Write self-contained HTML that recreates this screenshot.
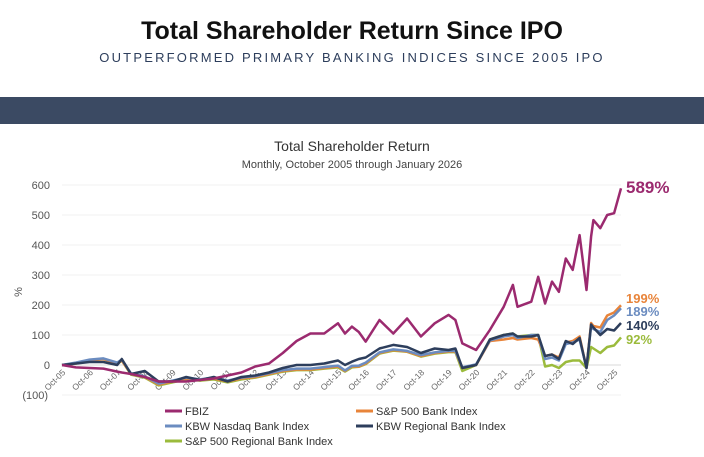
<!DOCTYPE html>
<html><head><meta charset="utf-8"><style>
body{margin:0;background:#fff;width:704px;height:452px;overflow:hidden;font-family:"Liberation Sans",sans-serif}
</style></head><body>
<svg width="704" height="452" xmlns="http://www.w3.org/2000/svg">
<text x="352" y="39" text-anchor="middle" font-size="25" font-weight="bold" fill="#111">Total Shareholder Return Since IPO</text>
<text x="352" y="62" text-anchor="middle" font-size="13" letter-spacing="2.2" fill="#2d3e5c">OUTPERFORMED PRIMARY BANKING INDICES SINCE 2005 IPO</text>
<rect x="0" y="97" width="704" height="27" fill="#3b4a63"/>
<text x="352" y="151" text-anchor="middle" font-size="14" fill="#333">Total Shareholder Return</text>
<text x="352" y="168" text-anchor="middle" font-size="11" fill="#444">Monthly, October 2005 through January 2026</text>
<text x="22" y="292" font-size="11" fill="#555" transform="rotate(-90 22 292)" text-anchor="middle">%</text>
<g id="grid"></g><g id="xt"></g><g id="lines"></g>
<g font-size="13" font-weight="bold">
<text x="626" y="193" font-size="17" fill="#9b2a6f">589%</text>
<text x="626" y="303" fill="#e8843a">199%</text>
<text x="626" y="316" fill="#6b8cc0">189%</text>
<text x="626" y="330" fill="#2d3e5c">140%</text>
<text x="626" y="344" fill="#9bbb3c">92%</text>
</g>
<g font-size="11" fill="#333">
<g><line x1="165" y1="411" x2="182" y2="411" stroke="#9b2a6f" stroke-width="3"/><text x="185" y="415">FBIZ</text></g>
<g><line x1="356" y1="411" x2="373" y2="411" stroke="#e8843a" stroke-width="3"/><text x="376" y="415">S&amp;P 500 Bank Index</text></g>
<g><line x1="165" y1="426" x2="182" y2="426" stroke="#6b8cc0" stroke-width="3"/><text x="185" y="430">KBW Nasdaq Bank Index</text></g>
<g><line x1="356" y1="426" x2="373" y2="426" stroke="#2d3e5c" stroke-width="3"/><text x="376" y="430">KBW Regional Bank Index</text></g>
<g><line x1="165" y1="441" x2="182" y2="441" stroke="#9bbb3c" stroke-width="3"/><text x="185" y="445">S&amp;P 500 Regional Bank Index</text></g>
</g>
</svg>
<script>
const months=[0,6,12,18,24,26,30,36,42,48,54,60,66,72,78,84,90,96,102,108,114,120,123,126,129,132,138,144,150,156,162,168,171,174,180,186,192,196,198,204,207,210,213,216,219,222,225,228,230,231,234,237,240,243];
const fbiz=[0,-8,-10,-12,-22,-25,-30,-40,-55,-55,-55,-50,-45,-35,-25,-5,5,40,80,105,105,139,105,128,110,78,150,105,155,95,139,167,150,72,50,117,194,267,194,211,294,205,278,244,355,317,433,250,428,483,456,500,506,589];
const regional=[0,5,10,10,0,20,-30,-20,-55,-55,-40,-50,-40,-55,-40,-35,-25,-10,0,0,5,15,0,11,20,25,55,67,60,40,55,50,55,-10,0,85,100,105,95,95,100,30,35,20,80,70,90,-10,135,125,100,120,115,140];
const spBank=[0,5,15,20,5,15,-30,-40,-65,-55,-45,-50,-45,-55,-45,-40,-30,-20,-15,-15,-10,-5,-20,-5,-5,5,40,50,45,30,40,45,45,-10,0,80,85,90,85,90,85,30,35,25,75,80,95,-10,140,130,125,165,175,199];
const kbwNasdaq=[0,8,18,22,8,18,-28,-38,-62,-52,-42,-48,-42,-52,-42,-37,-27,-17,-12,-12,-7,-2,-18,-3,-2,8,42,52,47,33,42,47,47,-8,2,82,95,100,90,100,100,20,25,15,70,75,85,-10,130,120,110,150,165,189];
const spRegional=[0,5,15,20,3,15,-32,-42,-68,-58,-48,-52,-48,-58,-48,-42,-32,-22,-17,-17,-12,-8,-22,-8,-6,3,38,48,44,28,38,43,43,-20,0,85,100,105,95,100,100,-5,0,-10,10,15,15,-10,60,55,40,60,65,92];
const yTicks=[600,500,400,300,200,100,0,-100];
const yTickLabels=["600","500","400","300","200","100","0","(100)"];
const xTickMonths=[0,12,24,36,48,60,72,84,96,108,120,132,144,156,168,180,192,204,216,228,240];
const xTickLabels=["Oct-05","Oct-06","Oct-07","Oct-08","Oct-09","Oct-10","Oct-11","Oct-12","Oct-13","Oct-14","Oct-15","Oct-16","Oct-17","Oct-18","Oct-19","Oct-20","Oct-21","Oct-22","Oct-23","Oct-24","Oct-25"];
const NS="http://www.w3.org/2000/svg";
const xS=m=>62+m*(559/243);
const yS=v=>365-v*0.3;
const grid=document.getElementById('grid');
yTicks.forEach((t,i)=>{
 const l=document.createElementNS(NS,'line');
 l.setAttribute('x1',62);l.setAttribute('x2',621);l.setAttribute('y1',yS(t));l.setAttribute('y2',yS(t));
 l.setAttribute('stroke',t===0?'#d8d8d8':'#f0f0f0');l.setAttribute('stroke-width',1);
 
 
 grid.appendChild(l);
 const tx=document.createElementNS(NS,'text');
 tx.setAttribute('x',t<0?48:50);tx.setAttribute('y',yS(t)+4);tx.setAttribute('text-anchor','end');
 tx.setAttribute('font-size','11');tx.setAttribute('fill','#555');tx.textContent=yTickLabels[i];
 
 
 grid.appendChild(tx);
});
const xt=document.getElementById('xt');
xTickMonths.forEach((m,i)=>{
 const x=xS(m)+4,y=373;
 const tx=document.createElementNS(NS,'text');
 tx.setAttribute('x',x);tx.setAttribute('y',y);tx.setAttribute('text-anchor','end');
 tx.setAttribute('font-size','8.5');tx.setAttribute('fill','#666');
 tx.setAttribute('transform',`rotate(-45 ${x} ${y})`);tx.textContent=xTickLabels[i];
 
 
 xt.appendChild(tx);
});
const series=[[spRegional,'#9bbb3c','sp-regional-line'],[spBank,'#e8843a','sp500-bank-line'],[kbwNasdaq,'#6b8cc0','kbw-nasdaq-line'],[regional,'#2d3e5c','kbw-regional-line'],[fbiz,'#9b2a6f','fbiz-line']];
const lines=document.getElementById('lines');
series.forEach(([d,c,n])=>{
 const p=document.createElementNS(NS,'polyline');
 p.setAttribute('points',d.map((v,i)=>xS(months[i]).toFixed(1)+','+yS(v).toFixed(1)).join(' '));
 p.setAttribute('fill','none');p.setAttribute('stroke',c);p.setAttribute('stroke-width','2.5');p.setAttribute('stroke-linejoin','round');
 
 
 lines.appendChild(p);
});
</script>
</body></html>
